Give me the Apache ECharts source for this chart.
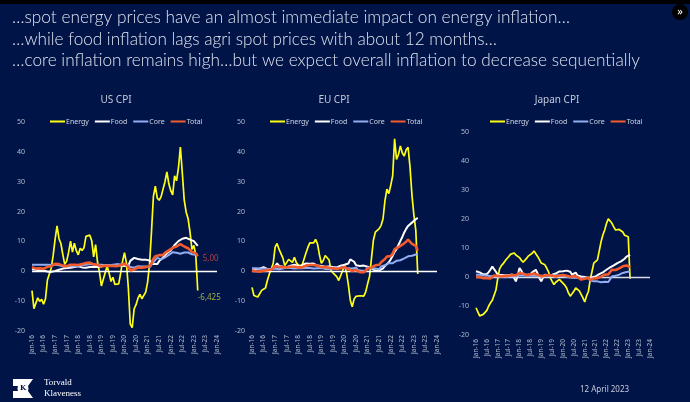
<!DOCTYPE html>
<html><head><meta charset="utf-8">
<script src="https://cdn.jsdelivr.net/npm/echarts/dist/echarts.min.js"></script>
<style>html,body{margin:0;padding:0;background:#011448;overflow:hidden}#c{width:690px;height:402px;}</style>
</head><body><div id="c"></div>
<script>
// ---------- DATA ----------
const monthNames = ['Jan','Feb','Mar','Apr','May','Jun','Jul','Aug','Sep','Oct','Nov','Dec'];
const yearLabels = ['16','17','18','19','20','21','22','23','24'];
const categories = [];
for (const y of yearLabels) for (const m of monthNames) { if (y === '24' && m !== 'Jan') break; categories.push(m + '-' + y); }

const seriesNames = ['Energy','Food','Core','Total'];
const chartTitles = ['US CPI','EU CPI','Japan CPI'];
const yTicks = {min:-20, max:50, step:10};

// US CPI (Jan-16 .. Mar-23), % y/y
const usEnergy = [-6.5,-12.5,-12.6,-8.9,-10.1,-9.4,-11.0,-9.2,-2.9,-0.9,1.1,5.4,
 10.8,15.2,10.9,9.3,5.6,2.3,3.4,6.4,10.1,6.4,9.4,6.9,
 5.5,7.7,7.0,7.9,11.7,12.0,12.1,10.2,4.8,8.9,3.1,-0.3,
 -4.9,-5.0,-0.4,1.7,-0.6,-3.4,-2.0,-4.4,-4.8,-4.2,-0.6,3.4,
 6.2,2.8,-5.7,-17.7,-18.9,-12.6,-11.2,-9.0,-7.7,-9.2,-9.4,-7.0,
 -3.6,2.4,13.2,25.1,28.5,24.5,23.8,25.0,24.8,30.0,33.3,29.3,
 27.0,25.6,32.0,30.3,34.6,41.6,32.9,23.8,19.8,17.6,13.1,7.3,
 8.7,5.2,-6.425];
const usFood = [0.7,0.8,0.5,0.4,0.3,0.3,0.2,0.0,-0.1,-0.2,-0.2,-0.2,
 0.1,0.3,0.5,0.5,0.9,0.9,1.1,1.1,1.2,1.3,1.4,1.6,
 1.7,1.3,1.3,1.4,1.2,1.4,1.4,1.4,1.4,1.2,1.4,1.6,
 1.6,2.0,2.1,1.9,2.0,1.9,1.8,1.7,1.8,2.1,2.0,1.8,
 1.8,1.8,1.9,3.5,4.0,4.5,4.1,4.1,3.9,3.9,3.7,3.9,
 3.8,3.6,3.5,2.4,2.2,2.4,3.4,3.7,4.6,5.3,6.1,6.3,
 7.0,7.9,8.8,9.4,10.1,10.4,10.9,11.4,11.2,10.9,10.6,10.4,
 10.1,9.5,8.5];
const usCore = [2.2,2.3,2.2,2.1,2.2,2.2,2.2,2.3,2.2,2.1,2.1,2.2,
 2.3,2.2,2.0,1.9,1.7,1.7,1.7,1.7,1.7,1.8,1.7,1.8,
 1.8,1.8,2.1,2.1,2.2,2.3,2.4,2.2,2.2,2.1,2.2,2.2,
 2.2,2.1,2.0,2.1,2.0,2.1,2.2,2.4,2.4,2.3,2.3,2.3,
 2.3,2.4,2.1,1.4,1.2,1.2,1.6,1.7,1.7,1.6,1.6,1.6,
 1.4,1.3,1.6,3.0,3.8,4.5,4.3,4.0,4.0,4.6,4.9,5.5,
 6.0,6.4,6.5,6.2,6.0,5.9,5.9,6.3,6.6,6.3,6.0,5.7,
 5.6,5.5,5.6];
const usTotal = [1.4,1.0,0.9,1.1,1.0,1.0,0.8,1.1,1.5,1.6,1.7,2.1,
 2.5,2.7,2.4,2.2,1.9,1.6,1.7,1.9,2.2,2.0,2.2,2.1,
 2.1,2.2,2.4,2.5,2.8,2.9,2.9,2.7,2.3,2.5,2.2,1.9,
 1.6,1.5,1.9,2.0,1.8,1.6,1.8,1.7,1.7,1.8,2.1,2.3,
 2.5,2.3,1.5,0.3,0.1,0.6,1.0,1.3,1.4,1.2,1.2,1.4,
 1.4,1.7,2.6,4.2,5.0,5.4,5.4,5.3,5.4,6.2,6.8,7.0,
 7.5,7.9,8.5,8.3,8.6,9.1,8.5,8.3,8.2,7.7,7.1,6.5,
 6.4,6.0,5.0];

// EU CPI (Jan-16 .. Mar-23)
const euEnergy = [-5.4,-8.1,-8.7,-8.6,-8.1,-6.4,-6.7,-5.6,-3.0,-0.9,-1.1,2.6,
 8.1,9.3,7.4,7.6,4.5,1.9,2.2,4.0,3.9,3.0,4.7,2.9,
 2.1,2.1,2.0,2.6,6.1,8.0,9.5,9.2,9.5,10.7,9.1,5.5,
 2.7,3.6,5.3,5.3,3.8,0.2,-0.5,-0.6,-1.8,-3.1,-3.2,0.2,
 1.9,-0.3,-4.5,-9.7,-11.9,-9.3,-8.4,-7.8,-8.2,-8.3,-8.3,-6.9,
 -4.2,-1.7,4.3,10.4,13.1,12.6,14.3,15.4,17.6,23.7,27.5,26.0,
 28.8,32.0,44.4,37.5,39.1,42.0,39.6,38.6,40.7,41.5,34.9,25.5,
 18.9,13.7,-0.9];
const euFood = [0.8,0.8,0.8,0.8,0.9,0.9,1.4,1.3,0.7,0.5,0.7,1.2,
 1.7,2.7,1.8,1.5,1.5,1.3,1.4,1.4,1.9,2.2,2.2,2.1,
 1.9,1.0,2.1,2.6,2.6,2.7,2.5,2.4,2.6,2.2,1.9,1.8,
 1.8,2.3,1.5,1.5,1.6,1.6,1.4,1.4,1.3,1.5,1.9,2.0,
 2.2,2.3,2.6,4.0,3.6,3.2,2.0,1.7,1.8,1.9,1.9,1.3,
 1.5,1.3,1.0,0.5,0.2,0.1,0.3,0.6,1.0,1.8,2.3,3.0,
 4.0,5.2,6.5,7.4,8.8,10.2,11.5,13.0,14.2,15.2,15.8,16.3,
 16.6,17.4,17.9];
const euCore = [1.0,0.8,1.0,0.7,0.8,0.9,0.9,0.8,0.8,0.8,0.8,0.9,
 0.9,0.9,0.7,1.2,0.9,1.1,1.2,1.2,1.1,0.9,0.9,0.9,
 1.0,1.0,1.0,0.7,1.1,0.9,1.1,1.0,0.9,1.1,1.0,1.0,
 1.1,1.0,0.8,1.3,0.8,1.1,0.9,0.9,1.0,1.1,1.3,1.3,
 1.1,1.2,1.0,0.9,0.9,0.8,1.2,0.4,0.2,0.2,0.2,0.2,
 1.4,1.1,0.9,0.7,0.9,0.9,0.7,1.6,1.9,2.0,2.6,2.7,
 2.3,2.7,2.9,3.5,3.8,3.7,4.0,4.3,4.8,5.0,5.0,5.2,
 5.3,5.6,5.7];
const euTotal = [0.3,-0.2,0.0,-0.2,-0.1,0.1,0.2,0.2,0.4,0.5,0.6,1.1,
 1.7,2.0,1.5,1.9,1.4,1.3,1.3,1.5,1.5,1.4,1.5,1.3,
 1.3,1.1,1.3,1.2,1.9,2.0,2.1,2.0,2.1,2.3,1.9,1.5,
 1.4,1.5,1.4,1.7,1.2,1.3,1.0,1.0,0.8,0.7,1.0,1.3,
 1.4,1.2,0.7,0.3,0.1,0.3,0.4,-0.2,-0.3,-0.3,-0.3,-0.3,
 0.9,0.9,1.3,1.6,2.0,1.9,2.2,3.0,3.4,4.1,4.9,5.0,
 5.1,5.9,7.4,7.4,8.1,8.6,8.9,9.1,9.9,10.6,10.1,9.2,
 8.6,8.5,6.9];

// Japan CPI (Jan-16 .. Feb-23)
const jpEnergy = [-10.6,-11.0,-13.4,-13.2,-12.9,-12.5,-11.5,-10.0,-8.9,-8.0,-7.5,-4.5,
 -0.5,2.8,3.9,4.6,5.5,6.3,7.0,7.8,8.4,8.3,7.6,7.0,
 6.7,5.8,5.1,5.5,6.5,7.3,7.6,8.2,9.0,8.0,7.1,6.0,
 4.8,4.8,4.2,3.1,1.8,-0.3,-1.5,-2.6,-1.8,-1.3,-0.8,-1.5,
 -1.5,-2.8,-3.8,-5.5,-6.6,-5.8,-4.9,-3.8,-3.2,-4.8,-6.0,-7.2,
 -8.6,-6.5,-5.0,-1.0,1.9,4.8,5.4,5.9,9.0,12.2,14.5,16.2,
 18.5,20.1,20.5,18.5,17.3,16.2,16.2,16.4,16.7,15.5,14.4,15.0,
 13.9,-0.6];
const jpFood = [2.0,2.4,1.6,1.0,0.9,0.9,1.0,1.7,2.6,3.6,3.0,1.8,
 0.8,0.6,0.7,0.8,0.6,0.7,0.6,0.7,0.9,-0.3,-1.5,0.5,
 3.1,2.2,1.0,0.8,0.7,0.8,0.9,1.6,2.2,2.5,1.2,-0.4,
 -1.5,-0.2,0.8,0.9,0.6,0.7,0.8,0.9,1.2,1.4,1.9,2.0,
 2.0,2.0,2.2,2.5,1.8,0.8,1.2,1.5,0.5,0.3,0.2,0.3,
 0.0,-0.2,-0.3,-0.2,-0.1,0.0,0.2,0.6,1.0,1.2,1.6,2.0,
 2.5,3.0,3.3,3.6,4.0,4.3,4.8,5.1,5.4,5.9,6.3,7.0,
 7.3,7.6];
const jpCore = [0.8,0.9,0.8,0.7,0.6,0.5,0.5,0.4,0.3,0.3,0.3,0.3,
 0.3,0.2,0.1,0.1,0.2,0.2,0.1,0.2,0.3,0.3,0.4,0.4,
 0.5,0.5,0.5,0.4,0.4,0.3,0.4,0.4,0.4,0.4,0.4,0.4,
 0.4,0.4,0.4,0.5,0.5,0.5,0.5,0.5,0.5,0.6,0.5,0.4,
 0.3,0.2,0.1,-0.1,-0.2,-0.3,-0.3,-0.2,-0.3,-0.4,-0.5,-0.5,
 -0.3,-0.4,-0.5,-1.2,-1.4,-1.5,-1.6,-1.5,-1.7,-1.8,-1.7,-1.6,
 -1.8,-1.7,-1.5,0.2,0.3,0.4,0.6,0.8,1.0,1.4,1.6,1.7,
 1.8,1.9];
const jpTotal = [0.0,0.3,0.0,-0.3,-0.4,-0.4,-0.4,-0.5,-0.5,0.1,0.5,0.3,
 0.4,0.3,0.2,0.4,0.4,0.4,0.4,0.7,0.7,0.2,0.6,1.0,
 1.4,1.5,1.1,0.6,0.7,0.7,0.9,1.3,1.2,1.4,0.8,0.3,
 0.2,0.2,0.5,0.9,0.7,0.7,0.5,0.3,0.2,0.2,0.5,0.8,
 0.7,0.4,0.4,0.1,0.1,0.1,0.3,0.2,0.0,-0.4,-0.9,-1.2,
 -0.6,-0.4,-0.2,-1.1,-0.8,-0.5,-0.3,-0.4,0.2,0.1,0.6,0.8,
 0.5,0.9,1.2,2.5,2.5,2.4,2.6,3.0,3.0,3.7,3.8,4.0,
 4.3,3.3];

const headerLines = [
 '\u2026spot energy prices have an almost immediate impact on energy inflation\u2026',
 '\u2026while food inflation lags agri spot prices with about 12 months\u2026',
 '\u2026core inflation remains high\u2026but we expect overall inflation to decrease sequentially'
];
const dateText = '12 April 2023';

// ---------- STYLE ----------
const BG = '#011448';
const colors = {Energy:'#ffff14', Food:'#ffffff', Core:'#92adf2', Total:'#f45b2c'};
const widths = {Energy:1.7, Food:2, Core:2, Total:2.6};
const axisTextColor = '#b4bccd';

const grids = [
  {left:32, top:122, width:185, height:209},
  {left:252, top:122, width:185, height:209},
  {left:476, top:132, width:174, height:203}
];
const titlePos = [[116,100],[334,100],[557,100]];
const legendLeft = [45, 265, 485];
const legendTop = [113, 113, 113];

const datasets = [
  {Energy:usEnergy, Food:usFood, Core:usCore, Total:usTotal},
  {Energy:euEnergy, Food:euFood, Core:euCore, Total:euTotal},
  {Energy:jpEnergy, Food:jpFood, Core:jpCore, Total:jpTotal}
];

// header text fitting
const cv = document.createElement('canvas').getContext('2d');
const headerFont = '300 17px Lato';
cv.font = headerFont;
const headerTargetW = [558, 485, 628];
const headerScale = headerTargetW.map((w,i)=> w / cv.measureText(headerLines[i]).width);

const series = [];
datasets.forEach((ds, g) => {
  seriesNames.forEach((name) => {
    const s = {
      name, type:'line', xAxisIndex:g, yAxisIndex:g, data:ds[name],
      symbol:'none', smooth:false, animation:false,
      lineStyle:{color:colors[name], width:widths[name]},
      itemStyle:{color:colors[name]},
      z: name==='Total'?6:(name==='Core'?5:(name==='Food'?4:3))
    };
    if (name === 'Food') {
      s.markLine = {silent:true, symbol:'none', animation:false,
        label:{show:false},
        lineStyle:{color: g===2 ? '#d8dce6' : '#ffffff', width:1.4, type:'solid'},
        data:[{yAxis:0}]};
    }
    if (g === 0 && (name === 'Total' || name === 'Energy')) {
      const arr = ds[name];
      const v = arr[arr.length - 1];
      const txt = name === 'Total' ? v.toFixed(2).replace('.', ',') : v.toFixed(3).replace('.', ',');
      s.endLabel = {show:true, formatter:txt, distance:3,
        offset: name === 'Total' ? [2, 2] : [-3, 7],
        fontSize:8, fontFamily:'Noto Sans',
        color: name === 'Total' ? '#b7413f' : '#a5b243'};
    }
    series.push(s);
  });
});

const option = {
  backgroundColor: BG,
  animation:false,
  grid: grids,
  xAxis: grids.map((g,i)=>({
    gridIndex:i, type:'category', data:categories, boundaryGap:false,
    axisLine:{show:false}, axisTick:{show:false}, splitLine:{show:false},
    axisLabel:{rotate:90, interval:5, fontSize:6.5, color:axisTextColor, margin:4, fontFamily:'Noto Sans'}
  })),
  yAxis: grids.map((g,i)=>({
    gridIndex:i, type:'value', min:yTicks.min, max:yTicks.max, interval:yTicks.step,
    axisLine:{show:false}, axisTick:{show:false}, splitLine:{show:false},
    axisLabel:{fontSize:7, color:axisTextColor, margin:7, fontFamily:'Noto Sans'}
  })),
  legend: grids.map((g,i)=>({
    data:seriesNames, left:legendLeft[i], top:legendTop[i], orient:'horizontal',
    icon:'rect', itemWidth:15, itemHeight:2, itemGap:6,
    selectedMode:false,
    textStyle:{color:'#d2d8e4', fontSize:7, fontFamily:'Noto Sans', padding:[0,0,0,-4]}
  })),
  series,
  graphic: [
    {type:'rect', shape:{x:0,y:0,width:690,height:4}, style:{fill:'#000000'}, silent:true},
    {type:'circle', shape:{cx:680, cy:12, r:8}, style:{fill:'#000000'}, silent:true},
    {type:'text', x:680, y:12, style:{text:'\u00bb', fill:'#ffffff', font:'11px "Noto Sans"', textAlign:'center', textVerticalAlign:'middle'}, silent:true},
    ...headerLines.map((t,i)=>({type:'text', x:12, y:18 + i*21.5, scaleX:headerScale[i], scaleY:1,
      style:{text:t, fill:'#dde2ee', font:headerFont, textVerticalAlign:'middle'}, silent:true})),
    ...chartTitles.map((t,i)=>({type:'text', x:titlePos[i][0], y:titlePos[i][1],
      style:{text:t, fill:'#c3cadb', font:'10px "Noto Sans"', textAlign:'center', textVerticalAlign:'middle'}, silent:true})),
    // logo
    {type:'polygon', shape:{points:[[13,379],[33,379],[28,386],[13,386]]}, style:{fill:'#ffffff'}, silent:true},
    {type:'polygon', shape:{points:[[13,391],[28,391],[33,398],[13,398]]}, style:{fill:'#ffffff'}, silent:true},
    {type:'circle', shape:{cx:23, cy:388.5, r:5.5}, style:{fill:'#ffffff'}, silent:true},
    {type:'text', x:23, y:388.5, style:{text:'K', fill:BG, font:'bold 7px "DejaVu Serif"', textAlign:'center', textVerticalAlign:'middle'}, silent:true},
    {type:'text', x:44, y:383, style:{text:'Torvald', fill:'#ffffff', font:'9px "Liberation Serif"', textVerticalAlign:'middle'}, silent:true},
    {type:'text', x:44, y:394, style:{text:'Klaveness', fill:'#ffffff', font:'9px "Liberation Serif"', textVerticalAlign:'middle'}, silent:true},
    {type:'text', x:580, y:390, style:{text:dateText, fill:'#c6ccda', font:'8px "Noto Sans"', textVerticalAlign:'middle'}, silent:true}
  ]
};
const chart = echarts.init(document.getElementById('c'), null, {renderer:'canvas'});
chart.setOption(option);
</script></body></html>
